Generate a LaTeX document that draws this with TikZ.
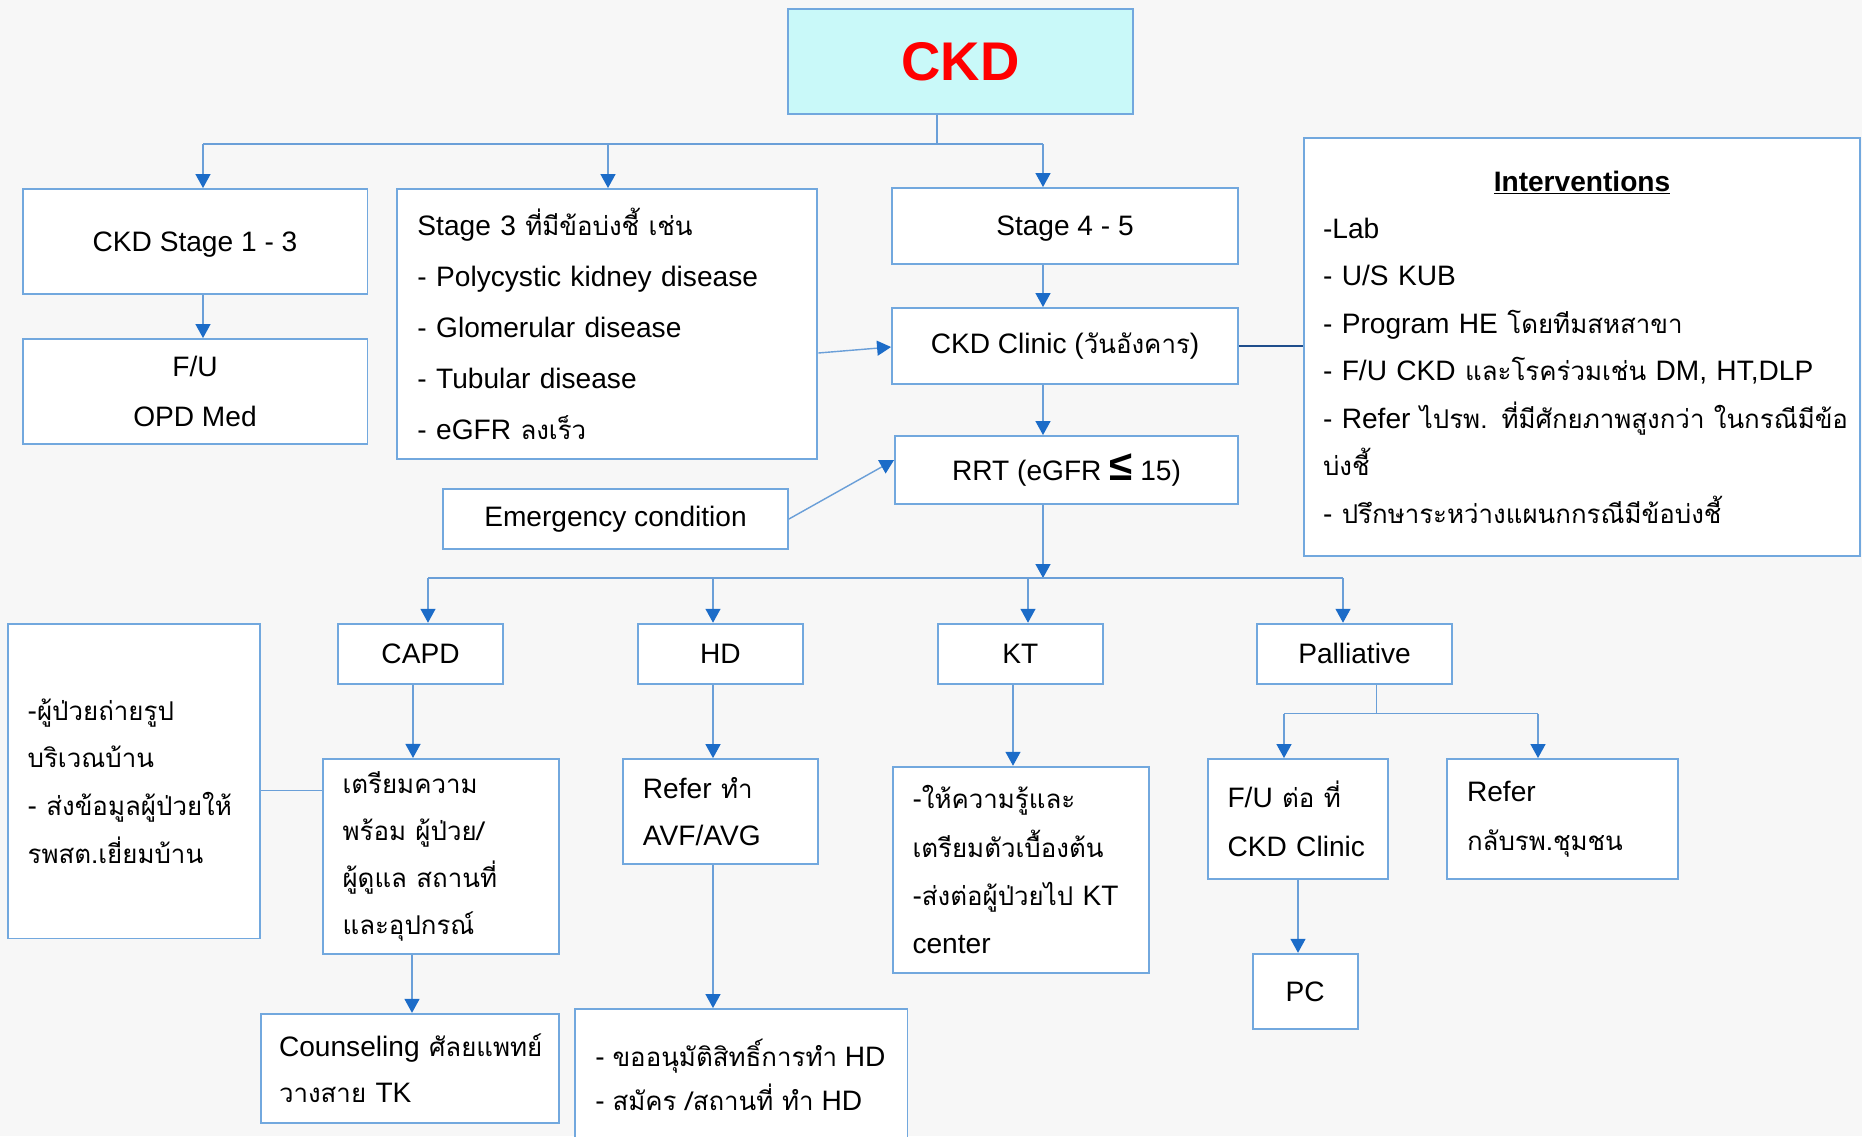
\documentclass[tikz,border=0pt]{standalone}
\usepackage{fontspec}
\setmainfont{Liberation Sans}
\newfontfamily\thai[Script=Thai, Scale=0.92]{Loma}
\usetikzlibrary{arrows.meta}

\definecolor{boxline}{HTML}{72A8DE}
\definecolor{linkline}{HTML}{6A9FD8}
\definecolor{tipblue}{HTML}{1C6CC8}
\definecolor{darklink}{HTML}{1F4E8C}
\definecolor{ckdfill}{HTML}{C9F9F9}
\definecolor{paper}{HTML}{F7F7F7}

\newcommand{\boxfont}[1]{\fontsize{16}{#1}\selectfont}

\tikzset{
    box/.style={draw=boxline, line width=1.1pt, fill=white, inner sep=0pt, font=\boxfont{19}},
    lbox/.style={box, align=left, inner xsep=0.4cm},
    link/.style={draw=linkline, line width=0.8pt},
    arr/.style={link, -{Triangle[length=0.28cm, width=0.3cm, color=tipblue]}}
}

\begin{document}
\begin{tikzpicture}[x=0.02cm, y=-0.02cm]

            \useasboundingbox (0,0) rectangle (1862,1136);
            \fill[paper] (0,0) rectangle (1862,1136);
            \clip (0,0) rectangle (1862,1136);
            %\draw [help lines, step=100] (0,0) grid (1862,1136);

            \path   (960.5,61.5) node (a) [box, fill=ckdfill, minimum width=6.9cm, minimum height=2.1cm, text=red, font=\fontsize{31}{31}\selectfont\bfseries] {CKD}
                    (195,241.5) node (b) [box, minimum width=6.9cm, minimum height=2.1cm, text depth=0pt] {CKD Stage 1 - 3}
                    (195,391.5) node (c) [box, minimum width=6.9cm, minimum height=2.1cm, align=center, font=\boxfont{28.5}] {F/U\\OPD Med}
                    (607.4,324) node (d) [lbox, text width=7.6cm, minimum height=5.4cm, font=\boxfont{29}] {Stage 3 {\thai ที่มีข้อบ่งชี้ เช่น}\\- Polycystic kidney disease\\- Glomerular disease\\- Tubular disease\\- eGFR {\thai ลงเร็ว}}
                    (1065,226) node (e) [box, minimum width=6.92cm, minimum height=1.52cm, text depth=0pt] {Stage 4 - 5}
                    (1065,346) node (f) [box, minimum width=6.92cm, minimum height=1.52cm] {CKD Clinic ({\thai วันอังคาร})}
                    (1066.5,470) node (g) [box, minimum width=6.86cm, minimum height=1.36cm] {RRT (eGFR {\fontsize{24}{24}\selectfont\bfseries ≤} 15)}
                    (615.5,519) node (h) [box, minimum width=6.9cm, minimum height=1.2cm] {Emergency condition}
                    (1582,347) node (i) [lbox, inner xsep=0.38cm, text width=10.36cm, minimum height=8.36cm, font=\boxfont{27}] {\makebox[\hsize]{\underline{\textbf{Interventions}}}\\-Lab\\- U/S KUB\\- Program HE {\thai โดยทีมสหสาขา}\\- F/U CKD {\thai และโรคร่วมเช่น} DM, HT,DLP\\\mbox{- Refer {\thai ไปรพ. ที่มีศักยภาพสูงกว่า ในกรณีมีข้อ}}\\{\thai บ่งชี้}\\- {\thai ปรึกษาระหว่างแผนกกรณีมีข้อบ่งชี้}}
                    (420.5,653.7) node (j) [box, minimum width=3.3cm, minimum height=1.2cm] {CAPD}
                    (720.3,653.7) node (k) [box, minimum width=3.31cm, minimum height=1.2cm] {HD}
                    (1020.3,653.7) node (l) [box, minimum width=3.31cm, minimum height=1.2cm] {KT}
                    (1354.5,653.7) node (m) [box, minimum width=3.9cm, minimum height=1.2cm] {Palliative}
                    (133.9,781) node (n) [lbox, text width=4.25cm, minimum height=6.3cm, font=\boxfont{27.2}] {-{\thai ผู้ป่วยถ่ายรูป}\\{\thai บริเวณบ้าน}\\\mbox{- {\thai ส่งข้อมูลผู้ป่วยให้}}\\{\thai รพสต.เยี่ยมบ้าน}}
                    (440.8,856.4) node (o) [lbox, text width=3.93cm, minimum height=3.9cm, font=\boxfont{26.8}] {{\thai เตรียมความ}\\\mbox{\thai พร้อม ผู้ป่วย/}\\\mbox{\thai ผู้ดูแล สถานที่}\\{\thai และอุปกรณ์}}
                    (410,1068.3) node (p) [lbox, inner xsep=0.36cm, text width=5.24cm, minimum height=2.18cm, font=\boxfont{26}] {\mbox{Counseling {\thai ศัลยแพทย์}}\\{\thai วางสาย} TK}
                    (720.4,811.6) node (q) [lbox, text width=3.1cm, minimum height=2.1cm, font=\boxfont{27.2}] {Refer {\thai ทำ}\\AVF/AVG}
                    (741.25,1119) node (r) [box, minimum width=6.65cm, minimum height=4.4cm] {}
                    (595,1074.4) node (s) [anchor=west, align=left, inner sep=0pt, font=\boxfont{25}] {- {\thai ขออนุมัติสิทธิ์การทำ} HD\\- {\thai สมัคร /สถานที่ ทำ} HD}
                    (1020.75,869.7) node (t) [lbox, text width=4.33cm, minimum height=4.12cm, font=\boxfont{27.5}] {-{\thai ให้ความรู้และ}\\{\thai เตรียมตัวเบื้องต้น}\\\mbox{-{\thai ส่งต่อผู้ป่วยไป} KT}\\center}
                    (1297.75,819) node (u) [lbox, text width=2.81cm, minimum height=2.4cm, font=\boxfont{28.2}] {F/U {\thai ต่อ ที่}\\CKD Clinic}
                    (1562.5,819) node (v) [lbox, text width=3.82cm, minimum height=2.4cm, font=\boxfont{28.2}] {Refer\\{\thai กลับรพ.ชุมชน}}
                    (1305.2,991.5) node (w) [box, minimum width=2.1cm, minimum height=1.51cm] {PC};

            % top split
            \coordinate (x0) at (937,144);
            \coordinate (x1) at (203,144);
            \coordinate (x2) at (608,144);
            \coordinate (x3) at (1043,144);
            \draw[link] (x0 |- a.south) -- (x0);
            \draw[link] (x1) -- (x3);
            \draw[arr] (x1) -- (x1 |- b.north);
            \draw[arr] (x2) -- (x2 |- d.north);
            \draw[arr] (x3) -- (x3 |- e.north);
            \draw[arr] (x1 |- b.south) -- (x1 |- c.north);
            \draw[arr] (x3 |- e.south) -- (x3 |- f.north);
            \draw[arr] (x3 |- f.south) -- (x3 |- g.north);
            \draw[arr] (d.east |- 0,353) -- (f.west |- 0,347);
            \draw[arr] (h.east) -- (g.west |- 0,460);
            \draw[darklink, line width=1.4pt] (f.east) -- (f.east -| i.west);

            % bottom split
            \coordinate (y0) at (1043,578);
            \coordinate (y1) at (428,578);
            \coordinate (y2) at (713,578);
            \coordinate (y3) at (1028,578);
            \coordinate (y4) at (1343,578);
            \draw[arr] (x3 |- g.south) -- (y0);
            \draw[link] (y1) -- (y4);
            \draw[arr] (y1) -- (y1 |- j.north);
            \draw[arr] (y2) -- (y2 |- k.north);
            \draw[arr] (y3) -- (y3 |- l.north);
            \draw[arr] (y4) -- (y4 |- m.north);

            \draw[arr] (j.south -| 413,0) -- (o.north -| 413,0);
            \draw[arr] (o.south -| 412,0) -- (p.north -| 412,0);
            \draw[link] (n.east |- 0,790.7) -- (o.west |- 0,790.7);
            \draw[arr] (y2 |- k.south) -- (y2 |- q.north);
            \draw[arr] (y2 |- q.south) -- (y2 |- r.north);
            \draw[arr] (l.south -| 1013,0) -- (t.north -| 1013,0);

            % palliative split
            \coordinate (z0) at (1376.5,713.6);
            \coordinate (z1) at (1284,713.6);
            \coordinate (z2) at (1538,713.6);
            \draw[link] (z0 |- m.south) -- (z0);
            \draw[link] (z1) -- (z2);
            \draw[arr] (z1) -- (z1 |- u.north);
            \draw[arr] (z2) -- (z2 |- v.north);
            \draw[arr] (u.south -| 1298,0) -- (w.north -| 1298,0);

\end{tikzpicture}
\end{document}
